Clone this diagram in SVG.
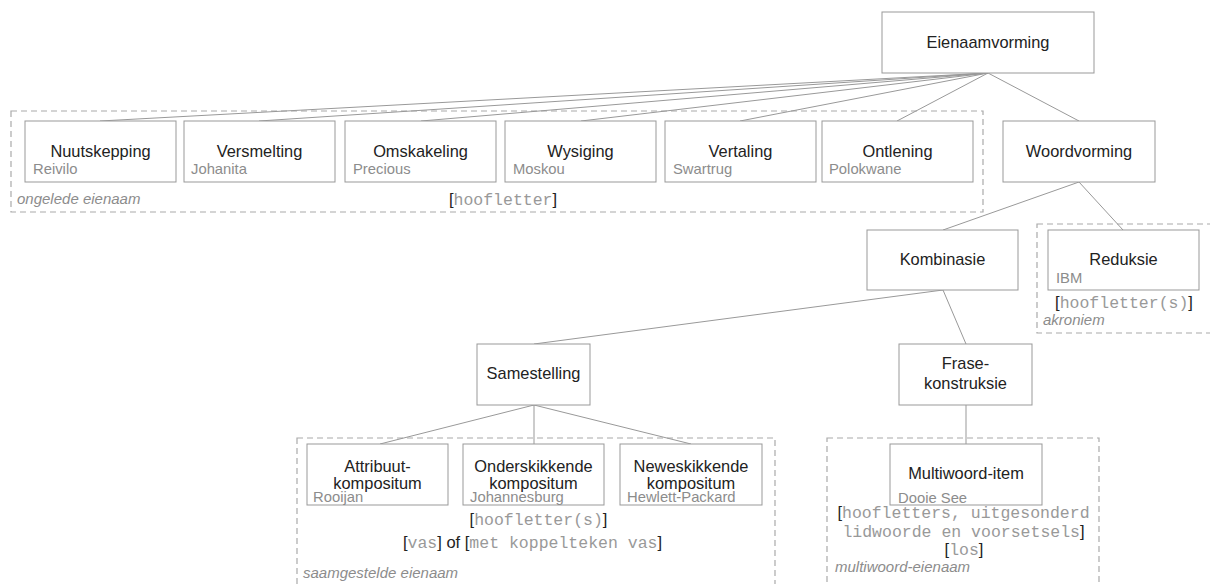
<svg xmlns="http://www.w3.org/2000/svg" width="1210" height="584" viewBox="0 0 1210 584">
<style>
.box{fill:#fff;stroke:#999;stroke-width:1}
.grp{fill:none;stroke:#aaa;stroke-width:1.2;stroke-dasharray:6,4}
.ln{stroke:#999;stroke-width:1;fill:none}
.t{font-family:"Liberation Sans",Arial,sans-serif;font-size:16.4px;fill:#222;text-anchor:middle}
.s{font-family:"Liberation Sans",Arial,sans-serif;font-size:14.8px;fill:#8c8c8c}
.i{font-family:"Liberation Sans",Arial,sans-serif;font-size:15px;font-style:italic;fill:#8c8c8c}
.r{font-family:"Liberation Sans",Arial,sans-serif;font-size:16.5px;fill:#222;text-anchor:middle}
.m{font-family:"Liberation Mono","Courier New",monospace;fill:#999}
</style>
<rect class="grp" x="11" y="111" width="972" height="101"/>
<rect class="grp" x="1037" y="224" width="178" height="109"/>
<rect class="grp" x="297" y="438" width="478" height="160"/>
<rect class="grp" x="827" y="438" width="272" height="160"/>
<g id="connectors">
<line class="ln" x1="988" y1="73" x2="100" y2="121"/>
<line class="ln" x1="988" y1="73" x2="259" y2="121"/>
<line class="ln" x1="988" y1="73" x2="421" y2="121"/>
<line class="ln" x1="988" y1="73" x2="581" y2="121"/>
<line class="ln" x1="988" y1="73" x2="740" y2="121"/>
<line class="ln" x1="988" y1="73" x2="897" y2="121"/>
<line class="ln" x1="988" y1="73" x2="1079" y2="121"/>
<line class="ln" x1="1079" y1="182" x2="943" y2="230"/>
<line class="ln" x1="1079" y1="182" x2="1123" y2="230"/>
<line class="ln" x1="943" y1="290" x2="534" y2="344"/>
<line class="ln" x1="943" y1="290" x2="966" y2="344"/>
<line class="ln" x1="534" y1="405" x2="380" y2="444"/>
<line class="ln" x1="534" y1="405" x2="534" y2="444"/>
<line class="ln" x1="534" y1="405" x2="691" y2="444"/>
<line class="ln" x1="966" y1="405" x2="966" y2="444"/>
</g>
<g id="eienaamvorming"><rect class="box" x="882" y="12" width="212" height="61"/><text class="t" x="988" y="48">Eienaamvorming</text></g>
<g id="nuutskepping"><rect class="box" x="25" y="121" width="151" height="61"/><text class="t" x="100.5" y="157">Nuutskepping</text><text class="s" x="33" y="174">Reivilo</text></g>
<g id="versmelting"><rect class="box" x="184" y="121" width="151" height="61"/><text class="t" x="259.5" y="157">Versmelting</text><text class="s" x="191" y="174">Johanita</text></g>
<g id="omskakeling"><rect class="box" x="345" y="121" width="151" height="61"/><text class="t" x="420.5" y="157">Omskakeling</text><text class="s" x="353" y="174">Precious</text></g>
<g id="wysiging"><rect class="box" x="505" y="121" width="151" height="61"/><text class="t" x="580.5" y="157">Wysiging</text><text class="s" x="513" y="174">Moskou</text></g>
<g id="vertaling"><rect class="box" x="665" y="121" width="151" height="61"/><text class="t" x="740.5" y="157">Vertaling</text><text class="s" x="673" y="174">Swartrug</text></g>
<g id="ontlening"><rect class="box" x="822" y="121" width="151" height="61"/><text class="t" x="897.5" y="157">Ontlening</text><text class="s" x="829" y="174">Polokwane</text></g>
<g id="ongelede"><text class="i" x="17" y="204">ongelede eienaam</text><text class="r" x="503" y="205">[<tspan class="m">hoofletter</tspan>]</text></g>
<g id="woordvorming"><rect class="box" x="1003" y="121" width="152" height="61"/><text class="t" x="1079" y="157">Woordvorming</text></g>
<g id="kombinasie"><rect class="box" x="867" y="230" width="151" height="60"/><text class="t" x="942.5" y="265">Kombinasie</text></g>
<g id="reduksie"><rect class="box" x="1048" y="230" width="151" height="60"/><text class="t" x="1123.5" y="265">Reduksie</text><text class="s" x="1056" y="283">IBM</text><text class="r" x="1124" y="308">[<tspan class="m">hoofletter(s)</tspan>]</text><text class="i" x="1043" y="325">akroniem</text></g>
<g id="samestelling"><rect class="box" x="477" y="344" width="113" height="61"/><text class="t" x="533.5" y="379">Samestelling</text></g>
<g id="frase"><rect class="box" x="899" y="344" width="133" height="61"/><text class="t" x="965.5" y="369">Frase-</text><text class="t" x="965.5" y="389">konstruksie</text></g>
<g id="attribuut"><rect class="box" x="307" y="444" width="141" height="61"/><text class="t" x="377.5" y="472">Attribuut-</text><text class="t" x="377.5" y="489">kompositum</text><text class="s" x="313" y="502">Rooijan</text></g>
<g id="onderskikkende"><rect class="box" x="463" y="444" width="141" height="61"/><text class="t" x="533.5" y="472">Onderskikkende</text><text class="t" x="533.5" y="489">kompositum</text><text class="s" x="470" y="502">Johannesburg</text></g>
<g id="neweskikkende"><rect class="box" x="620" y="444" width="142" height="61"/><text class="t" x="691" y="472">Neweskikkende</text><text class="t" x="691" y="489">kompositum</text><text class="s" x="627" y="502">Hewlett-Packard</text></g>
<g id="saamgestelde"><text class="r" x="538.5" y="525">[<tspan class="m">hoofletter(s)</tspan>]</text><text class="r" x="532.5" y="548">[<tspan class="m">vas</tspan>] of [<tspan class="m">met koppelteken vas</tspan>]</text><text class="i" x="303" y="578">saamgestelde eienaam</text></g>
<g id="multiwoord"><rect class="box" x="890" y="444" width="152" height="61"/><text class="t" x="966" y="479">Multiwoord-item</text><text class="s" x="898" y="503">Dooie See</text><text class="r" x="963.5" y="518">[<tspan class="m">hoofletters, uitgesonderd</tspan></text><text class="r" x="963.5" y="537"><tspan class="m">lidwoorde en voorsetsels</tspan>]</text><text class="r" x="964" y="555">[<tspan class="m">los</tspan>]</text><text class="i" x="835" y="572">multiwoord-eienaam</text></g>
</svg>
